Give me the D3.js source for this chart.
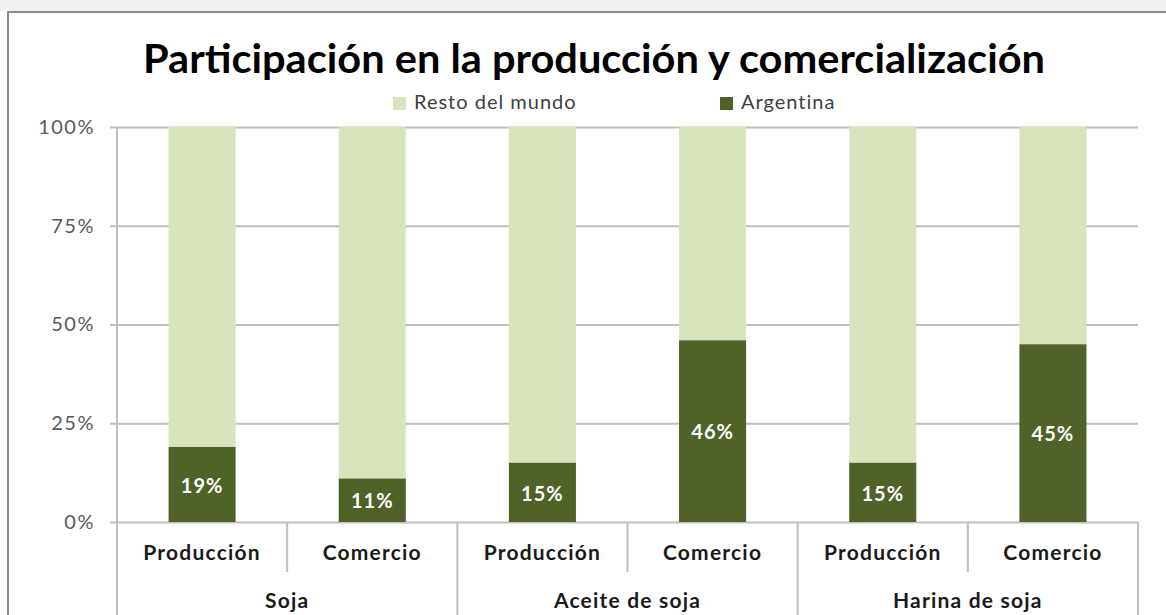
<!DOCTYPE html>
<html>
<head>
<meta charset="utf-8">
<script src="https://cdn.jsdelivr.net/npm/d3@7"></script>
<style>
  html, body { margin: 0; padding: 0; background: #fff; }
  svg { display: block; }
</style>
</head>
<body>
<svg id="chart" width="1166" height="615"></svg>
<script>
// Data: share of Argentina in world production and trade
const groups = ["Soja", "Aceite de soja", "Harina de soja"];
const subCategories = ["Producción", "Comercio"];
const argentina = [19, 11, 15, 46, 15, 45];
const restoDelMundo = argentina.map(v => 100 - v);
const yTicks = [0, 25, 50, 75, 100];
const seriesNames = ["Resto del mundo", "Argentina"];

const colors = { resto: "#d7e4bd", arg: "#4f6228" };
const FONT = "Lato, 'Open Sans', sans-serif";

const svg = d3.select("#chart");
const W = 1166, H = 615;

// Frame of the chart area
svg.append("rect").attr("x", 0).attr("y", 0).attr("width", W).attr("height", 11).attr("fill", "#eef0f2");
svg.append("rect").attr("x", 8).attr("y", 12).attr("width", W + 10).attr("height", H + 10)
  .attr("fill", "#fff").attr("stroke", "#8c8c8c").attr("stroke-width", 2);

const plot = { left: 117, right: 1138, top: 127, bottom: 522 };

const bars = d3.range(argentina.length).map(i => ({
  key: i,
  group: groups[Math.floor(i / subCategories.length)],
  sub: subCategories[i % subCategories.length],
  arg: argentina[i],
  resto: restoDelMundo[i]
}));

const x = d3.scaleBand()
  .domain(bars.map(d => d.key))
  .range([plot.left, plot.right])
  .paddingInner(0.606)
  .paddingOuter(0.303);

const y = d3.scaleLinear().domain([0, 100]).range([plot.bottom, plot.top]);

// Gridlines and y axis labels
const yAxis = d3.axisLeft(y).tickValues(yTicks).tickFormat(d => d + "%")
  .tickSize(-(plot.right - plot.left)).tickPadding(22);
const gy = svg.append("g").attr("transform", `translate(${plot.left},0)`).call(yAxis);
gy.select(".domain").remove();
gy.selectAll(".tick line").attr("stroke", "#bfbfbf").attr("stroke-width", 2).attr("x2", plot.right - plot.left).attr("x1", -7);
gy.selectAll(".tick text").attr("fill", "#595959").style("font-family", FONT)
  .style("font-size", "20px").style("letter-spacing", "1.5px");

// Left axis line
svg.append("line").attr("x1", plot.left).attr("x2", plot.left).attr("y1", plot.top).attr("y2", H)
  .attr("stroke", "#bfbfbf").attr("stroke-width", 2);

// Stacked bars
const gBars = svg.append("g");
gBars.selectAll("rect.resto").data(bars).join("rect").attr("class", "resto")
  .attr("x", d => x(d.key)).attr("width", x.bandwidth())
  .attr("y", d => y(d.arg + d.resto)).attr("height", d => y(d.arg) - y(d.arg + d.resto))
  .attr("fill", colors.resto);
gBars.selectAll("rect.arg").data(bars).join("rect").attr("class", "arg")
  .attr("x", d => x(d.key)).attr("width", x.bandwidth())
  .attr("y", d => y(d.arg)).attr("height", d => y(0) - y(d.arg))
  .attr("fill", colors.arg);

// Value labels inside the Argentina segment
gBars.selectAll("text.val").data(bars).join("text").attr("class", "val")
  .attr("x", d => x(d.key) + x.bandwidth() / 2)
  .attr("y", d => (y(0) + y(d.arg)) / 2 + 3)
  .attr("text-anchor", "middle").attr("dominant-baseline", "middle")
  .attr("fill", "#ffffff").style("font-family", FONT)
  .style("font-weight", "bold").style("font-size", "20px").style("letter-spacing", "1px")
  .text(d => d.arg + "%");

// Category axis: separators
const step = x.step();
const sepG = svg.append("g");
d3.range(argentina.length + 1).forEach(i => {
  const xx = plot.left + i * step;
  const full = i % subCategories.length === 0;
  sepG.append("line").attr("x1", xx).attr("x2", xx).attr("y1", plot.bottom)
    .attr("y2", full ? H : 572).attr("stroke", "#bfbfbf").attr("stroke-width", 2);
});

// Sub-category labels
svg.append("g").selectAll("text").data(bars).join("text")
  .attr("x", d => x(d.key) + x.bandwidth() / 2).attr("y", 555)
  .attr("text-anchor", "middle").attr("dominant-baseline", "middle")
  .attr("fill", "#1a1a1a").style("font-family", FONT)
  .style("font-weight", "bold").style("font-size", "21px").style("letter-spacing", "1.2px")
  .text(d => d.sub);

// Group labels
svg.append("g").selectAll("text").data(groups).join("text")
  .attr("x", (d, i) => plot.left + (i + 0.5) * step * subCategories.length).attr("y", 603)
  .attr("text-anchor", "middle").attr("dominant-baseline", "middle")
  .attr("fill", "#1a1a1a").style("font-family", FONT)
  .style("font-weight", "bold").style("font-size", "21px").style("letter-spacing", "1.2px")
  .text(d => d);

// Title
svg.append("text").attr("x", 594).attr("y", 73).attr("text-anchor", "middle")
  .attr("fill", "#000").style("font-family", FONT)
  .style("font-weight", "bold").style("font-size", "40px")
  .attr("textLength", 902).attr("lengthAdjust", "spacingAndGlyphs")
  .text("Participación en la producción y comercialización");

// Legend
const legendItems = [
  { name: seriesNames[0], color: colors.resto, x: 393 },
  { name: seriesNames[1], color: colors.arg, x: 720 }
];
const lg = svg.append("g").selectAll("g").data(legendItems).join("g")
  .attr("transform", d => `translate(${d.x},97)`);
lg.append("rect").attr("width", 13).attr("height", 13).attr("fill", d => d.color);
lg.append("text").attr("x", 21).attr("y", 7).attr("dominant-baseline", "middle")
  .attr("fill", "#404040").style("font-family", FONT)
  .style("font-size", "20px").style("letter-spacing", "1px").text(d => d.name);
</script>
</body>
</html>
